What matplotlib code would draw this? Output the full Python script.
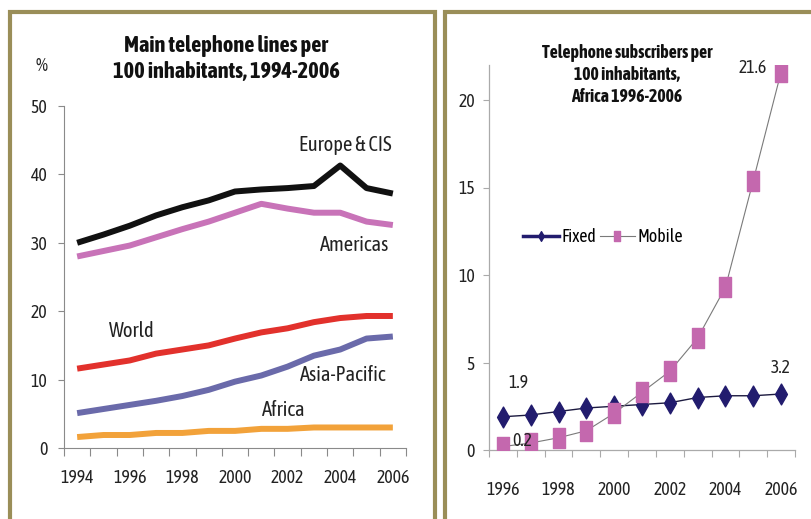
import matplotlib
matplotlib.use("Agg")
import matplotlib.pyplot as plt
from matplotlib import font_manager
from matplotlib.path import Path
from matplotlib.lines import Line2D
from matplotlib.patches import Rectangle
import numpy as np

# Choose a narrow sans family that has both a regular and a bold face
_faces = {}
for _f in font_manager.fontManager.ttflist:
    _faces.setdefault(_f.name, []).append(_f)


def _weight(f):
    w = f.weight
    return w if isinstance(w, int) else font_manager.weight_dict.get(w, 400)


def _has_reg_bold(fl):
    ws = [_weight(f) for f in fl if f.style == 'normal']
    return any(w >= 600 for w in ws) and any(350 <= w <= 500 for w in ws)


_narrow = sorted(n for n, fl in _faces.items()
                 if ('Narrow' in n or 'Condensed' in n) and _has_reg_bold(fl))
_dejavu_cond = [f for f in _faces.get('DejaVu Sans', []) if f.stretch == 'condensed']
font_stretch = 'normal'
if 'Liberation Sans Narrow' in _narrow:
    base_family, fs_scale = 'Liberation Sans Narrow', 1.0
elif _narrow:
    base_family, fs_scale = _narrow[0], 0.95
elif _has_reg_bold(_dejavu_cond):
    base_family, fs_scale, font_stretch = 'DejaVu Sans', 0.88, 'condensed'
else:
    base_family, fs_scale = 'Liberation Sans', 0.86
plt.rcParams['font.family'] = [base_family, 'DejaVu Sans']
plt.rcParams['font.stretch'] = font_stretch


def fs(size):
    return size * fs_scale


# ---- Main telephone lines per 100 inhabitants, 1994-2006 ----
years_main = [1994, 1995, 1996, 1997, 1998, 1999, 2000, 2001, 2002, 2003, 2004, 2005, 2006]
europe_cis = [30.0, 31.2, 32.5, 34.0, 35.2, 36.2, 37.5, 37.8, 38.0, 38.3, 41.3, 38.0, 37.2]
americas = [28.0, 28.8, 29.6, 30.8, 32.0, 33.1, 34.4, 35.7, 35.0, 34.4, 34.4, 33.1, 32.6]
world = [11.6, 12.2, 12.8, 13.8, 14.4, 15.0, 16.0, 16.9, 17.5, 18.4, 19.0, 19.3, 19.3]
asia_pacific = [5.1, 5.7, 6.3, 6.9, 7.6, 8.5, 9.7, 10.6, 11.9, 13.5, 14.4, 16.0, 16.3]
africa_main = [1.6, 1.9, 1.9, 2.2, 2.2, 2.5, 2.5, 2.8, 2.8, 3.0, 3.0, 3.0, 3.0]
main_ticks = [0, 10, 20, 30, 40, 50]

# ---- Telephone subscribers per 100 inhabitants, Africa 1996-2006 ----
years_af = [1996, 1997, 1998, 1999, 2000, 2001, 2002, 2003, 2004, 2005, 2006]
fixed = [1.9, 2.0, 2.2, 2.4, 2.5, 2.6, 2.7, 3.0, 3.1, 3.1, 3.2]
mobile = [0.2, 0.4, 0.7, 1.1, 2.1, 3.3, 4.5, 6.4, 9.3, 15.4, 21.6]
af_ticks = [0, 5, 10, 15, 20]

W, H = 812, 519
fig = plt.figure(figsize=(W / 100, H / 100), dpi=100)
fig.patch.set_facecolor('white')


def fpos(x0, y_bottom, x1, y_top):
    return [x0 / W, 1 - y_bottom / H, (x1 - x0) / W, (y_bottom - y_top) / H]


frame_col = '#9A8E58'
fig.patches.append(Rectangle((10 / W, -0.1), (435 - 10) / W, 1.1 - 11.5 / H,
                             transform=fig.transFigure, fill=False,
                             edgecolor=frame_col, linewidth=3))
fig.patches.append(Rectangle((445 / W, -0.1), 0.6, 1.1 - 11.5 / H,
                             transform=fig.transFigure, fill=False,
                             edgecolor=frame_col, linewidth=3))

spine_col = '#8a8a8a'
text_col = '#222222'

# Left chart
ax1 = fig.add_axes(fpos(64, 448, 406, 106))
xm = np.arange(len(years_main))
series = [
    (europe_cis, '#111111'),
    (americas, '#C873B8'),
    (world, '#E2312C'),
    (asia_pacific, '#6A6AAA'),
    (africa_main, '#F2A23A'),
]
for vals, col in series:
    ax1.plot(xm, vals, color=col, lw=4.3, solid_joinstyle='round', solid_capstyle='butt')

ax1.set_xlim(-0.5, len(years_main) - 0.5)
ax1.set_ylim(0, 50)
ax1.set_yticks(main_ticks)
ax1.set_yticklabels([str(t) for t in main_ticks], fontsize=fs(13.5))
ax1.set_xticks(xm[::2])
ax1.set_xticklabels([str(y) for y in years_main[::2]], fontsize=fs(13.5))
ax1.set_xticks(np.arange(-0.5, len(years_main)), minor=True)
ax1.tick_params(axis='x', which='major', length=0, pad=15, colors=text_col)
ax1.tick_params(axis='x', which='minor', length=6, width=0.8, color=spine_col, direction='out')
ax1.tick_params(axis='y', length=4, width=0.8, color=spine_col, pad=8, labelcolor=text_col)
for s in ['top', 'right']:
    ax1.spines[s].set_visible(False)
for s in ['left', 'bottom']:
    ax1.spines[s].set_color(spine_col)
    ax1.spines[s].set_linewidth(0.8)

lab_kw = dict(fontsize=fs(15.5), ha='center', va='center', color=text_col)
ax1.text(10.2, 44.3, 'Europe & CIS', **lab_kw)
ax1.text(10.55, 29.7, 'Americas', **lab_kw)
ax1.text(2.07, 17.1, 'World', **lab_kw)
ax1.text(10.1, 10.7, 'Asia-Pacific', **lab_kw)
ax1.text(7.87, 5.55, 'Africa', **lab_kw)

fig.text(42 / W, 1 - 66 / H, '%', fontsize=fs(14.5), ha='center', va='center', color=text_col)
fig.text(226 / W, 1 - 59 / H, 'Main telephone lines per\n100 inhabitants, 1994-2006',
         fontsize=fs(17), fontweight='bold', ha='center', va='center',
         linespacing=1.25, color='#111111')

# Right chart
ax2 = fig.add_axes(fpos(489, 450, 795, 65))
xa = np.arange(len(years_af))
diamond = Path([(0, 1), (0.57, 0), (0, -1), (-0.57, 0), (0, 1)],
               [Path.MOVETO, Path.LINETO, Path.LINETO, Path.LINETO, Path.CLOSEPOLY])
tall_sq = Path([(-0.57, -1), (0.57, -1), (0.57, 1), (-0.57, 1), (-0.57, -1)],
               [Path.MOVETO, Path.LINETO, Path.LINETO, Path.LINETO, Path.CLOSEPOLY])

ax2.plot(xa, fixed, color='#1c1a40', lw=1.0, marker=diamond, markersize=15,
         markerfacecolor='#221C6E', markeredgecolor='#221C6E', zorder=3)
ax2.plot(xa, mobile, color='#7a7a7a', lw=0.8, marker=tall_sq, markersize=15,
         markerfacecolor='#C468AE', markeredgecolor='#C468AE', zorder=4)

ax2.set_xlim(-0.5, len(years_af) - 0.5)
ax2.set_ylim(0, 22)
ax2.set_yticks(af_ticks)
ax2.set_yticklabels([str(t) for t in af_ticks], fontsize=fs(13.5))
ax2.set_xticks(xa[::2])
ax2.set_xticklabels([str(y) for y in years_af[::2]], fontsize=fs(13.5))
ax2.set_xticks(np.arange(-0.5, len(years_af)), minor=True)
ax2.tick_params(axis='x', which='major', length=0, pad=22, colors=text_col)
ax2.tick_params(axis='x', which='minor', length=5, width=0.8, color='#aaaaaa', direction='out')
ax2.tick_params(axis='y', length=4, width=0.8, color='#aaaaaa', pad=6, labelcolor=text_col)
for s in ['top', 'right']:
    ax2.spines[s].set_visible(False)
for s in ['left', 'bottom']:
    ax2.spines[s].set_color('#aaaaaa')
    ax2.spines[s].set_linewidth(0.9)

val_kw = dict(fontsize=fs(13.5), color=text_col, textcoords='offset points', va='center', zorder=6)
ax2.annotate(f'{mobile[-1]:.1f}', (xa[-1], mobile[-1]), xytext=(-10, 3), ha='right', **val_kw)
ax2.annotate(f'{fixed[0]:.1f}', (xa[0], fixed[0]), xytext=(11, 24), ha='center', **val_kw)
ax2.annotate(f'{mobile[0]:.1f}', (xa[0], mobile[0]), xytext=(14, 4), ha='center', **val_kw)
ax2.annotate(f'{fixed[-1]:.1f}', (xa[-1], fixed[-1]), xytext=(0, 19), ha='center', **val_kw)

fig.text(627 / W, 1 - 75 / H, 'Telephone subscribers per\n100 inhabitants,\nAfrica 1996-2006',
         fontsize=fs(13.5), fontweight='bold', ha='center', va='center',
         linespacing=1.3, color='#111111')

handles = [
    Line2D([], [], color='#221C6E', lw=2.5, marker=diamond, markersize=7,
           markerfacecolor='#221C6E', markeredgecolor='#221C6E'),
    Line2D([], [], color='#7a7a7a', lw=0.8, marker=tall_sq, markersize=7,
           markerfacecolor='#C468AE', markeredgecolor='#C468AE'),
]
ax2.legend(handles, ['Fixed', 'Mobile'], loc='center left',
           bbox_to_anchor=((523 - 489) / 306, (450 - 237) / 385),
           ncol=2, frameon=False, fontsize=fs(13.5), handlelength=2.0,
           handletextpad=0.15, columnspacing=0.2, borderaxespad=0, borderpad=0)

fig.savefig('out.png', dpi=100, facecolor='white')
